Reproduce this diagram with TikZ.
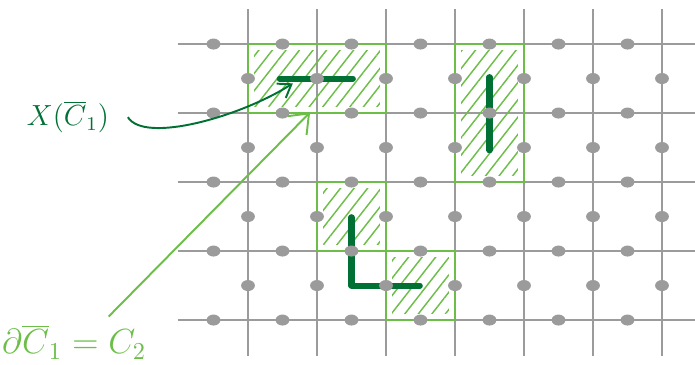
\documentclass[tikz,border=0pt]{standalone}
\usetikzlibrary{arrows.meta,patterns.meta}

\definecolor{mrizka}{RGB}{155,155,155}
\definecolor{svetla}{RGB}{108,190,72}
\definecolor{tmava}{RGB}{0,112,52}

\begin{document}
\begin{tikzpicture}[
        gridline/.style={mrizka, line width=0.8pt},
        plaq/.style={svetla, line width=0.9pt},
        hatch/.style={pattern={Lines[angle=52,distance=4.4pt,line width=0.6pt]}, pattern color=svetla},
        chain/.style={tmava, line width=2.5pt, line cap=round, line join=round},
        qubit/.style={fill=mrizka}
    ]
        \useasboundingbox (-3.594,-0.638) rectangle (6.478,4.638);

        % mřížka
        \foreach \y in {0,...,4}
            \draw[gridline] (-1.02,\y) -- (6.5,\y);
        \foreach \x in {0,...,6}
            \draw[gridline] (\x,-0.52) -- (\x,4.51);

        % plakety
        \foreach \a/\b/\c/\d in {0/3/2/4, 3/2/4/4, 1/1/2/2, 2/0/3/1} {
            \fill[hatch] (\a+0.09,\b+0.09) rectangle (\c-0.09,\d-0.09);
            \draw[plaq] (\a,\b) rectangle (\c,\d);
        }

        % řetězce
        \draw[chain] (0.46,3.5) -- (1.52,3.5);
        \draw[chain] (3.5,3.52) -- (3.5,2.46);
        \draw[chain] (1.5,1.49) -- (1.5,0.5) -- (2.49,0.5);

        % qubity na hranách
        \foreach \y in {0,...,4}
            \foreach \x in {-0.5,0.5,...,5.5}
                \fill[qubit] (\x,\y) ellipse [x radius=0.1, y radius=0.08];
        \foreach \x in {0,...,6}
            \foreach \y in {0.5,1.5,...,3.5}
                \fill[qubit] (\x,\y) ellipse [x radius=0.1, y radius=0.08];

        % popisky
        \node[tmava, font=\large] (xc) at (-2.61,2.94) {$X(\overline{C}_1)$};
        \coordinate (xtip) at (0.65,3.43);
        \draw[tmava, line width=0.8pt, -{Straight Barb[length=5pt,width=7pt]}]
            ([xshift=0.15cm]xc.east) .. controls (-1.5,2.55) and (-0.1,2.95) .. (xtip);

        \node[svetla, font=\Large] (dc) at (-2.52,-0.32) {$\partial\overline{C}_1 = C_2$};
        \coordinate (dtip) at (0.90,3.01);
        \draw[svetla, line width=0.8pt, -{Straight Barb[length=7pt,width=11pt]}]
            ([xshift=0.5cm]dc.north) -- (dtip);
\end{tikzpicture}
\end{document}
